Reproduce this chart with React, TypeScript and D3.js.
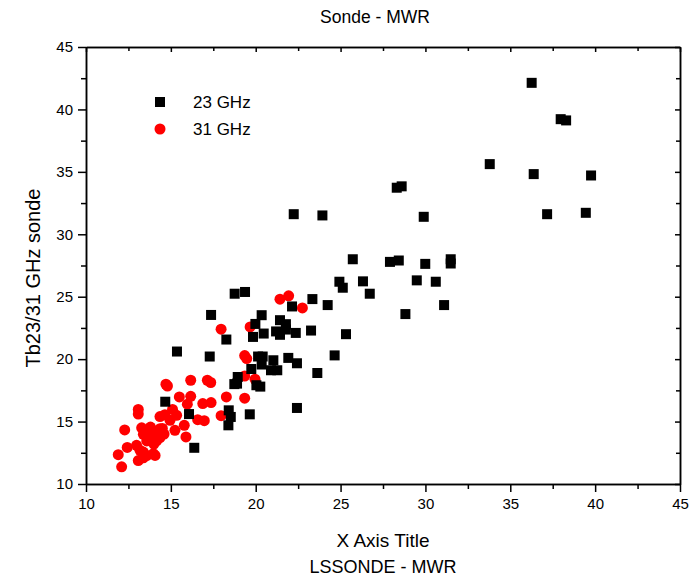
import React, { useRef, useEffect } from 'react';
import { select, scaleLinear, axisBottom, axisLeft, axisTop, axisRight, range } from 'd3';

// 23 GHz points [LSSONDE - MWR, Tb sonde]
const ghz23: [number, number][] = [
  [36.26, 42.13], [37.97, 39.22], [38.29, 39.12], [33.79, 35.62], [36.38, 34.82],
  [39.76, 34.71], [37.17, 31.61], [39.45, 31.72],
  [28.31, 33.73], [28.6, 33.84], [23.93, 31.51], [29.9, 31.4], [22.24, 31.61],
  [25.72, 28.0], [27.91, 27.79], [28.43, 27.9], [29.99, 27.63], [31.49, 28.0], [31.49, 27.66],
  [24.93, 26.2], [25.13, 25.72], [26.32, 26.23], [29.49, 26.31], [30.61, 26.2], [26.72, 25.24],
  [23.34, 24.81], [24.24, 24.33], [31.1, 24.33], [28.82, 23.61],
  [18.76, 25.24], [19.37, 25.38], [22.14, 24.22],
  [17.37, 23.54], [20.35, 23.52], [19.98, 22.82], [21.43, 23.12], [21.78, 22.8],
  [21.2, 22.22], [21.43, 21.95], [21.78, 22.37], [20.47, 22.05], [19.84, 21.78],
  [22.36, 22.1], [23.26, 22.29], [18.27, 21.57], [25.32, 22.0], [24.65, 20.3],
  [17.29, 20.21], [20.14, 20.21], [20.41, 20.21], [21.04, 19.91], [20.35, 19.57],
  [21.92, 20.1], [22.43, 19.67], [19.74, 19.21], [20.9, 19.11], [21.27, 19.11],
  [23.63, 18.89], [18.94, 18.57], [18.74, 18.0], [18.9, 18.04], [20.04, 17.91], [20.27, 17.8],
  [22.43, 16.09], [18.41, 15.9], [18.53, 15.37], [18.39, 14.7], [19.65, 15.58],
  [15.36, 20.61], [14.67, 16.59], [16.07, 15.6], [16.38, 12.9],
];

// 31 GHz points
const ghz31: [number, number][] = [
  [11.9, 12.35], [12.1, 11.38], [12.28, 14.33], [12.43, 12.93], [12.98, 13.1],
  [13.08, 15.97], [13.08, 15.6], [13.08, 11.88], [13.18, 12.7], [13.28, 14.5],
  [13.38, 12.56], [13.38, 13.98], [13.38, 12.1], [13.48, 14.15], [13.58, 13.45],
  [13.58, 12.28], [13.77, 13.72], [13.8, 14.56], [13.97, 12.43], [13.97, 14.03],
  [14.07, 12.29], [14.16, 13.45], [14.36, 13.72], [14.36, 14.43], [14.36, 15.4],
  [14.5, 14.45], [14.65, 15.55], [14.71, 17.99], [14.8, 17.85], [14.95, 15.1],
  [15.1, 15.97], [15.24, 14.3], [15.34, 15.5], [15.5, 16.97], [15.79, 14.7],
  [15.89, 13.77], [15.97, 16.39], [16.17, 18.31], [16.17, 17.02], [16.58, 15.15],
  [16.88, 16.44], [16.97, 15.07], [17.15, 18.31], [17.35, 18.13], [17.37, 16.52],
  [17.96, 15.47], [17.96, 22.4], [18.27, 16.97], [19.35, 20.29], [19.47, 20.05],
  [19.35, 18.65], [19.96, 18.39], [19.35, 16.87], [19.67, 22.58], [21.43, 24.8],
  [21.94, 25.07], [22.75, 24.1], [14.0, 13.2], [14.6, 14.0],
];

const xDomain = [10, 45];
const yDomain = [10, 45];
const majorTicks = range(10, 46, 5);
const minorTicks = range(12.5, 45, 5);

const font = 'Arial, "Liberation Sans", sans-serif';

export default function App() {
  const svgRef = useRef<SVGSVGElement>(null);

  useEffect(() => {
    const svg = select(svgRef.current);
    svg.selectAll('*').remove();

    const left = 86, right = 680, top = 47, bottom = 484;
    const x = scaleLinear().domain(xDomain).range([left, right]);
    const y = scaleLinear().domain(yDomain).range([bottom, top]);

    // red first, black squares on top
    svg.append('g')
      .selectAll('circle')
      .data(ghz31)
      .join('circle')
      .attr('cx', d => x(d[0]))
      .attr('cy', d => y(d[1]))
      .attr('r', 5.5)
      .attr('fill', '#ff0000');

    const s = 10;
    svg.append('g')
      .selectAll('rect')
      .data(ghz23)
      .join('rect')
      .attr('x', d => x(d[0]) - s / 2)
      .attr('y', d => y(d[1]) - s / 2)
      .attr('width', s)
      .attr('height', s)
      .attr('fill', '#000');

    const styleAxis = (g: any) => {
      g.select('.domain').attr('stroke', '#000').attr('stroke-width', 1.5);
      g.selectAll('.tick line').attr('stroke', '#000').attr('stroke-width', 1.5);
      g.selectAll('text').attr('font-family', font).attr('font-size', 15).attr('fill', '#000');
    };

    // minor ticks
    svg.append('g').attr('transform', `translate(0,${bottom})`)
      .call(axisBottom(x).tickValues(minorTicks).tickSize(5).tickFormat(() => '').tickSizeOuter(0))
      .call(styleAxis);
    svg.append('g').attr('transform', `translate(${left},0)`)
      .call(axisLeft(y).tickValues(minorTicks).tickSize(5).tickFormat(() => '').tickSizeOuter(0))
      .call(styleAxis);
    svg.append('g').attr('transform', `translate(0,${top})`)
      .call(axisTop(x).tickValues(minorTicks).tickSize(-4).tickFormat(() => '').tickSizeOuter(0))
      .call(styleAxis);
    svg.append('g').attr('transform', `translate(${right},0)`)
      .call(axisRight(y).tickValues(minorTicks).tickSize(-4).tickFormat(() => '').tickSizeOuter(0))
      .call(styleAxis);

    // major ticks
    svg.append('g').attr('transform', `translate(0,${bottom})`)
      .call(axisBottom(x).tickValues(majorTicks).tickSize(8).tickPadding(6).tickSizeOuter(0))
      .call(styleAxis);
    svg.append('g').attr('transform', `translate(${left},0)`)
      .call(axisLeft(y).tickValues(majorTicks).tickSize(8).tickPadding(5).tickSizeOuter(0))
      .call(styleAxis);
    svg.append('g').attr('transform', `translate(0,${top})`)
      .call(axisTop(x).tickValues(majorTicks).tickSize(-5).tickFormat(() => '').tickSizeOuter(0))
      .call(styleAxis);
    svg.append('g').attr('transform', `translate(${right},0)`)
      .call(axisRight(y).tickValues(majorTicks).tickSize(-5).tickFormat(() => '').tickSizeOuter(0))
      .call(styleAxis);

    const cx = (left + right) / 2;
    svg.append('text').attr('x', 375).attr('y', 23).attr('text-anchor', 'middle')
      .attr('font-family', font).attr('font-size', 17.5).text('Sonde - MWR');
    svg.append('text').attr('x', cx).attr('y', 547).attr('text-anchor', 'middle')
      .attr('font-family', font).attr('font-size', 19).text('X Axis Title');
    svg.append('text').attr('x', cx).attr('y', 573).attr('text-anchor', 'middle')
      .attr('font-family', font).attr('font-size', 18).text('LSSONDE - MWR');
    svg.append('text')
      .attr('transform', `translate(40,278) rotate(-90)`)
      .attr('text-anchor', 'middle')
      .attr('font-family', font).attr('font-size', 20).text('Tb23/31 GHz sonde');

    // legend
    const lg = svg.append('g').attr('font-family', font).attr('font-size', 17);
    lg.append('rect').attr('x', 155).attr('y', 97).attr('width', s).attr('height', s).attr('fill', '#000');
    lg.append('text').attr('x', 193).attr('y', 108).text('23 GHz');
    lg.append('circle').attr('cx', 160).attr('cy', 129).attr('r', 5.5).attr('fill', '#ff0000');
    lg.append('text').attr('x', 193).attr('y', 135).text('31 GHz');
  }, []);

  return (
    <svg ref={svgRef} width={690} height={580}
      style={{ position: 'absolute', left: 0, top: 0, background: '#fff' }} />
  );
}
